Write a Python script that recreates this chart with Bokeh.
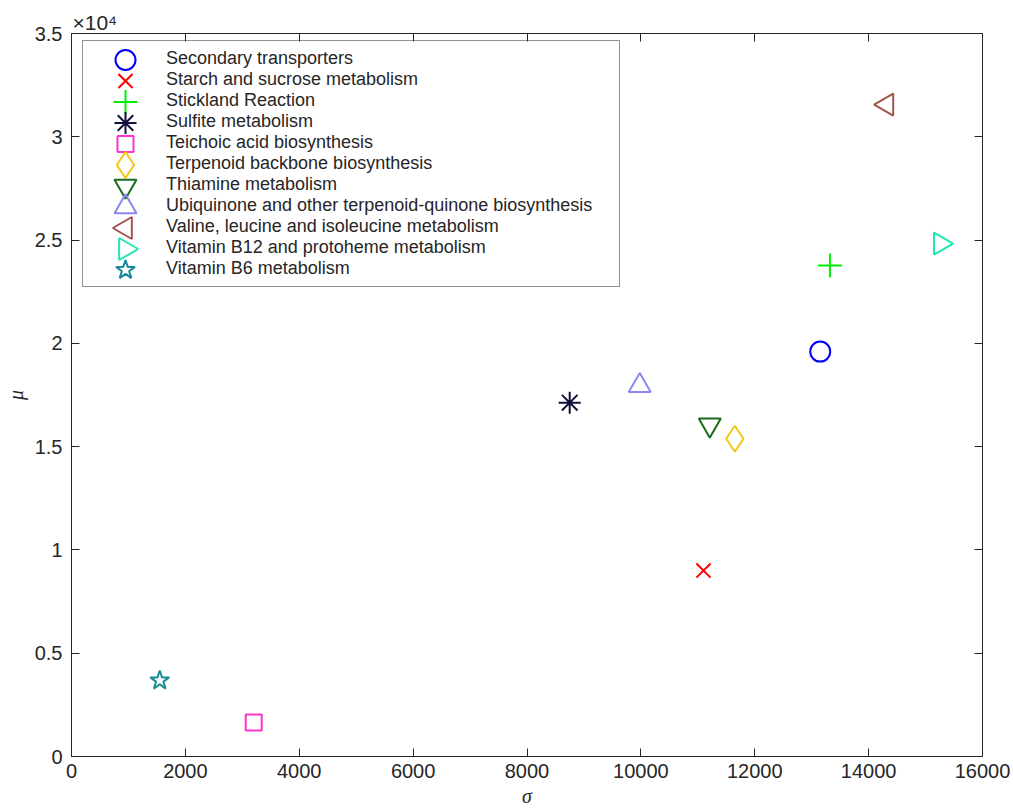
import math
from bokeh.plotting import figure
from bokeh.models import (Legend, LegendItem, LinearAxis, FixedTicker, Range1d,
                          Title, CustomJSTickFormatter, ColumnDataSource)
from bokeh.embed import file_html
from bokeh.resources import INLINE

# ---- data ----
categories = [
    "Secondary transporters",
    "Starch and sucrose metabolism",
    "Stickland Reaction",
    "Sulfite metabolism",
    "Teichoic acid biosynthesis",
    "Terpenoid backbone biosynthesis",
    "Thiamine metabolism",
    "Ubiquinone and other terpenoid-quinone biosynthesis",
    "Valine, leucine and isoleucine metabolism",
    "Vitamin B12 and protoheme metabolism",
    "Vitamin B6 metabolism",
]
sigma_values = [13150, 11100, 13320, 8750, 3200, 11650, 11210, 9980, 14320, 15260, 1550]
mu_values = [19600, 9000, 23770, 17130, 1640, 15380, 16050, 17950, 31560, 24830, 3680]

x_tick_values = [0, 2000, 4000, 6000, 8000, 10000, 12000, 14000, 16000]
x_tick_labels = ["0", "2000", "4000", "6000", "8000", "10000", "12000", "14000", "16000"]
y_tick_values = [0, 5000, 10000, 15000, 20000, 25000, 30000, 35000]
y_tick_labels = ["0", "0.5", "1", "1.5", "2", "2.5", "3", "3.5"]
y_multiplier = "×10⁴"

# ---- styles ----
markers = ["circle", "x", "cross", "asterisk", "square", "diamond",
           "inverted_triangle", "triangle", "triangle", "triangle", "star"]
angles = [0, 0, 0, 0, 0, 0, 0, 0, math.pi / 2, -math.pi / 2, 0]
colors = ["#0000ff", "#ff0000", "#00ee00", "#10103a", "#ff33cc", "#f5c518",
          "#1a6b1a", "#8888ee", "#a0554f", "#1fe8b4", "#1a8c99"]
sizes = [20, 20, 24, 22, 16, 26, 22, 22, 22, 22, 20]

FONT = "Liberation Sans"
TXT = "#262626"
FRAME_W, FRAME_H = 911, 723

p = figure(frame_width=FRAME_W, frame_height=FRAME_H, output_backend="svg",
           toolbar_location=None,
           x_range=Range1d(0, 16000), y_range=Range1d(0, 35000),
           min_border_left=71, min_border_right=31, min_border_top=33,
           min_border_bottom=54, x_axis_location=None, y_axis_location=None)
p.grid.visible = False
p.outline_line_color = TXT
p.outline_line_width = 1
p.background_fill_color = "white"
p.border_fill_color = "white"
# pixel-mapped range used only for placing the legend symbols
p.extra_x_ranges = {"px": Range1d(0, FRAME_W)}
p.extra_y_ranges = {"px": Range1d(0, FRAME_H)}


def style_axis(ax, ticks, labels, show_labels):
    ax.ticker = FixedTicker(ticks=ticks)
    ax.major_tick_in = 8
    ax.major_tick_out = 0
    ax.minor_tick_line_color = None
    ax.axis_line_color = TXT
    ax.major_tick_line_color = TXT
    ax.major_label_text_font = FONT
    ax.major_label_text_font_size = "20px"
    ax.major_label_text_color = TXT
    ax.axis_label_text_font = "Liberation Serif"
    ax.axis_label_text_font_style = "italic"
    ax.axis_label_text_font_size = "20px"
    ax.axis_label_text_color = TXT
    if show_labels:
        ax.major_label_overrides = {t: l for t, l in zip(ticks, labels)}
    else:
        ax.formatter = CustomJSTickFormatter(code="return ''")
        ax.major_label_text_font_size = "0px"
        ax.major_label_standoff = 0


xb = LinearAxis(axis_label="σ")
style_axis(xb, x_tick_values, x_tick_labels, True)
xb.major_label_standoff = 7
xb.axis_label_standoff = 4
p.add_layout(xb, "below")

yl = LinearAxis(axis_label="μ")
style_axis(yl, y_tick_values, y_tick_labels, True)
yl.major_label_standoff = 9
yl.axis_label_standoff = 5
p.add_layout(yl, "left")

xt = LinearAxis()
style_axis(xt, x_tick_values, x_tick_labels, False)
p.add_layout(xt, "above")

yr = LinearAxis()
style_axis(yr, y_tick_values, y_tick_labels, False)
p.add_layout(yr, "right")

p.add_layout(Title(text=y_multiplier, align="left", offset=1, standoff=0,
                   text_font=FONT, text_font_size="21px",
                   text_font_style="normal", text_color=TXT), "above")

# data points
for i, name in enumerate(categories):
    p.scatter(x=[sigma_values[i]], y=[mu_values[i]], marker=markers[i],
              size=sizes[i], angle=angles[i], fill_color=None,
              line_color=colors[i], line_width=2)

# legend: box + labels from Bokeh's Legend, symbols drawn at legend rows
LEG_LEFT, LEG_BOTTOM, LEG_PAD, ROW_H, GLYPH_W = 11, 469, 7, 21, 72
n = len(categories)
leg_top = LEG_BOTTOM + 2 * LEG_PAD + n * ROW_H

dummy = p.scatter(x=[sigma_values[0]], y=[mu_values[0]], size=0,
                  line_alpha=0, fill_alpha=0)
items = [LegendItem(label=name, renderers=[dummy]) for name in categories]
legend = Legend(items=items, location=(LEG_LEFT, LEG_BOTTOM), margin=0,
                padding=LEG_PAD, glyph_height=ROW_H, glyph_width=GLYPH_W,
                label_height=ROW_H, label_width=446, spacing=0, label_standoff=4,
                label_text_font=FONT, label_text_font_size="18px",
                label_text_color=TXT, border_line_color=TXT, border_line_width=1,
                background_fill_alpha=0)
p.add_layout(legend, "center")

sym_src = ColumnDataSource(dict(
    x=[LEG_LEFT + LEG_PAD + GLYPH_W / 2] * n,
    y=[leg_top - LEG_PAD - ROW_H / 2 - ROW_H * i for i in range(n)],
    marker=markers, angle=angles, color=colors, size=sizes,
))
p.scatter(x="x", y="y", marker="marker", angle="angle", size="size",
          line_color="color", fill_color=None, line_width=2,
          source=sym_src, x_range_name="px", y_range_name="px")

open("out.html", "w").write(file_html(p, INLINE))
